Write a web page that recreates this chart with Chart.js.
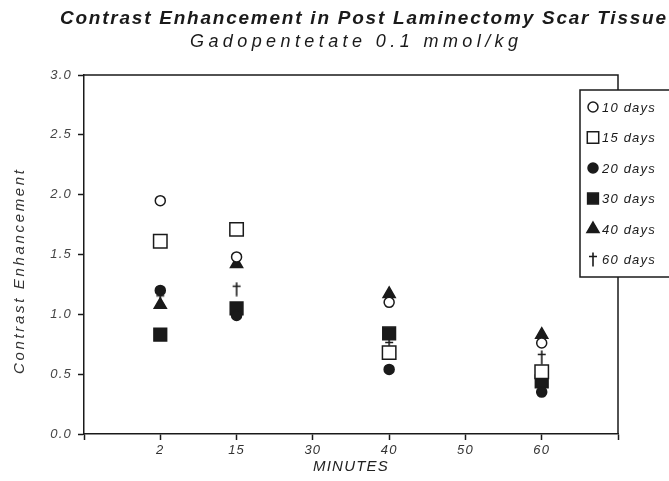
<!DOCTYPE html>
<html>
<head>
<meta charset="utf-8">
<script src="https://cdn.jsdelivr.net/npm/chart.js@4"></script>
<style>
  html, body { margin: 0; padding: 0; background: #fff; }
</style>
</head>
<body>
<canvas id="chart" width="669" height="481"></canvas>
<script>
// tick labels printed along the x axis (evenly spaced, not to scale)
const minuteTicks = ['2', '15', '30', '40', '50', '60'];
// times that have measurements
const minutes = [2, 15, 40, 60];

// contrast enhancement per group (post-op interval)
const days10 = [1.95, 1.48, 1.10, 0.76];
const days15 = [1.61, 1.71, 0.68, 0.52];
const days20 = [1.20, 0.99, 0.54, 0.35];
const days30 = [0.83, 1.05, 0.84, 0.44];
const days40 = [1.08, 1.42, 1.17, 0.83];
const days60 = [1.13, 1.21, 0.74, 0.64];

const groupNames = ['10 days', '15 days', '20 days', '30 days', '40 days', '60 days'];

const INK = '#1a1a1a';
const FONT = '"Liberation Sans", Arial, sans-serif';

// dagger shaped marker for the 60 day group
function makeDagger() {
  const c = document.createElement('canvas');
  c.width = 10; c.height = 15;
  const g = c.getContext('2d');
  g.strokeStyle = INK;
  g.lineWidth = 1.6;
  g.beginPath();
  g.moveTo(5, 0.5); g.lineTo(5, 14.5);
  g.moveTo(1, 4.5); g.lineTo(9, 4.5);
  g.stroke();
  return c;
}
const dagger = makeDagger();

// marker look for each group
const markers = [
  { pointStyle: 'circle',   radius: 5,   fill: '#fff' },
  { pointStyle: 'rect',     radius: 9.5, fill: '#fff' },
  { pointStyle: 'circle',   radius: 5,   fill: INK },
  { pointStyle: 'rect',     radius: 9,   fill: INK },
  { pointStyle: 'triangle', radius: 7,   fill: INK },
  { pointStyle: dagger,     radius: 7,   fill: INK },
];

function xIndex(m) {
  return minuteTicks.indexOf(String(m)) + 1;
}

const groups = [days10, days15, days20, days30, days40, days60];
const datasets = groups.map((vals, i) => ({
  label: groupNames[i],
  data: minutes.map((m, j) => ({ x: xIndex(m), y: vals[j] })),
  pointStyle: markers[i].pointStyle,
  pointRadius: markers[i].radius,
  pointHoverRadius: markers[i].radius,
  backgroundColor: markers[i].fill,
  borderColor: INK,
  borderWidth: 1.5,
  showLine: false,
}));

// frame: top and right edges of the plot box
const framePlugin = {
  id: 'frame',
  beforeDraw(chart) {
    // the original print uses widely tracked lettering
    chart.ctx.letterSpacing = '1.2px';
  },
  beforeDatasetsDraw(chart) {
    const { ctx, chartArea: a } = chart;
    ctx.save();
    ctx.strokeStyle = INK;
    ctx.lineWidth = 1.5;
    ctx.beginPath();
    ctx.moveTo(a.left, a.top);
    ctx.lineTo(a.right, a.top);
    ctx.lineTo(a.right, a.bottom);
    ctx.stroke();
    ctx.restore();
  }
};

// spread text out so it covers the given width
function spacedText(ctx, text, cx, y, width) {
  ctx.letterSpacing = '0px';
  const w = ctx.measureText(text).width;
  const sp = Math.max(0, (width - w) / (text.length - 1));
  ctx.letterSpacing = sp + 'px';
  ctx.textAlign = 'left';
  ctx.fillText(text, cx - width / 2, y);
  ctx.letterSpacing = '0px';
}

const headingPlugin = {
  id: 'heading',
  afterDraw(chart) {
    const ctx = chart.ctx;
    ctx.save();
    ctx.fillStyle = INK;
    ctx.textBaseline = 'alphabetic';
    ctx.font = 'italic bold 19px ' + FONT;
    spacedText(ctx, 'Contrast Enhancement in Post Laminectomy Scar Tissue', 363, 24, 606);
    ctx.font = 'italic 18px ' + FONT;
    spacedText(ctx, 'Gadopentetate 0.1 mmol/kg', 354, 47, 328);
    // y axis title, rotated
    ctx.translate(20, 272);
    ctx.rotate(-Math.PI / 2);
    ctx.fillStyle = '#333';
    ctx.textBaseline = 'middle';
    ctx.font = 'italic 15px ' + FONT;
    spacedText(ctx, 'Contrast Enhancement', 0, 0, 204);
    ctx.restore();
  }
};

// boxed legend that sits over the right edge of the frame
const boxLegendPlugin = {
  id: 'boxLegend',
  afterDraw(chart) {
    const ctx = chart.ctx;
    const box = { left: 580, top: 90, width: 100, height: 187 };
    ctx.save();
    ctx.fillStyle = '#fff';
    ctx.fillRect(box.left, box.top, box.width, box.height);
    ctx.strokeStyle = INK;
    ctx.lineWidth = 1.5;
    ctx.strokeRect(box.left, box.top, box.width, box.height);
    ctx.font = 'italic 13px ' + FONT;
    ctx.textBaseline = 'middle';
    ctx.textAlign = 'left';
    ctx.letterSpacing = '1.2px';
    groupNames.forEach((name, i) => {
      const y = box.top + 17 + i * 30.5;
      const mk = markers[i];
      ctx.fillStyle = mk.fill;
      ctx.strokeStyle = INK;
      ctx.lineWidth = 1.5;
      Chart.helpers.drawPoint(ctx, {
        pointStyle: mk.pointStyle,
        radius: mk.pointStyle === 'rect' ? mk.radius * 0.85 : mk.radius,
        borderWidth: 1.5,
        rotation: 0,
      }, box.left + 13, y);
      ctx.fillStyle = INK;
      ctx.fillText(name, box.left + 22, y + 1);
    });
    ctx.restore();
  }
};

new Chart(document.getElementById('chart'), {
  type: 'scatter',
  data: { datasets },
  plugins: [framePlugin, headingPlugin, boxLegendPlugin],
  options: {
    responsive: false,
    animation: false,
    layout: { padding: { top: 75, right: 51, left: 0, bottom: 0 } },
    plugins: {
      legend: { display: false },
      tooltip: { enabled: false },
      title: { display: false },
    },
    scales: {
      x: {
        type: 'linear',
        min: 0,
        max: minuteTicks.length + 1,
        afterBuildTicks(scale) {
          scale.ticks = [];
          for (let i = 0; i <= minuteTicks.length + 1; i++) scale.ticks.push({ value: i });
        },
        afterFit(scale) { scale.height = 47; },
        grid: { drawOnChartArea: false, tickLength: 6, tickColor: INK, tickWidth: 1.5 },
        border: { display: true, color: INK, width: 1.5 },
        ticks: {
          padding: 3,
          color: '#333',
          font: { family: FONT, size: 13, style: 'italic' },
          callback: (v) => minuteTicks[v - 1] || '',
          maxRotation: 0,
        },
        title: {
          display: true,
          text: 'MINUTES',
          color: '#222',
          font: { family: FONT, size: 15, style: 'italic' },
          padding: { top: 0, bottom: 5 },
        },
      },
      y: {
        min: 0,
        max: 3,
        afterFit(scale) { scale.width = 84; },
        grid: { drawOnChartArea: false, tickLength: 6, tickColor: INK, tickWidth: 1.5 },
        border: { display: true, color: INK, width: 1.5 },
        ticks: {
          stepSize: 0.5,
          padding: 6,
          color: '#444',
          font: { family: FONT, size: 13, style: 'italic' },
          callback: (v) => v.toFixed(1),
        },
        title: { display: false },
      },
    },
  },
});
</script>
</body>
</html>
